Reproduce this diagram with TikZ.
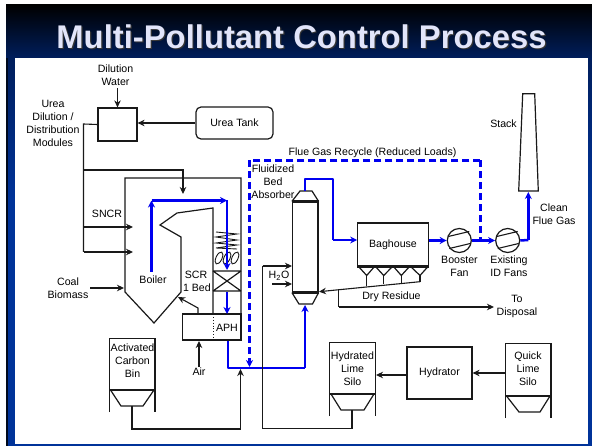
\documentclass[tikz,border=0pt]{standalone}
\usepackage{fontspec}
\setmainfont{Liberation Sans}
\usetikzlibrary{arrows.meta,calc}
\definecolor{flue}{RGB}{0,0,240}
\definecolor{titlecol}{RGB}{226,229,250}
\definecolor{navy}{RGB}{0,30,92}
\definecolor{sidebl}{RGB}{0,51,153}
\tikzset{
  lbl/.style={inner sep=0pt,align=center,font=\fontsize{10.6}{13}\selectfont,text=black},
  pipe/.style={draw=black!90,line width=1.1pt},
  arr/.style={pipe,-{Stealth[length=7pt,width=6.5pt]}},
  gas/.style={draw=flue,line width=2.5pt,line join=round},
  gasarr/.style={gas,-{Stealth[length=7pt,width=7pt]}},
  recyc/.style={draw=flue,line width=2.5pt,dash pattern=on 7pt off 4pt},
  unit/.style={draw=black!90,line width=1.2pt,inner sep=0pt,align=center,font=\fontsize{10.6}{13}\selectfont,text=black},
  wall/.style={draw=black!90,line width=1.2pt,line join=miter},
  thick wall/.style={draw=black!90,line width=2pt}
}
\begin{document}
\begin{tikzpicture}[x=1pt,y=-1pt]
\useasboundingbox (0,0) rectangle (592,446);
% slide background
\fill[white] (0,0) rectangle (592,446);
\fill[sidebl] (8,200) rectangle (592,446);
\shade[top color=navy,bottom color=sidebl] (8,58) rectangle (592,200);
\shade[top color=black,bottom color=navy] (6,5) rectangle (592,58);
\fill[black!70!navy] (6,58) rectangle (8,446);
\fill[white] (15,58) rectangle (588,444);
\node[font=\bfseries\fontsize{32.8}{34}\selectfont,text=black!80,inner sep=0pt] at (302.7,37.7) {Multi-Pollutant Control Process};
\node[font=\bfseries\fontsize{32.8}{34}\selectfont,text=titlecol,inner sep=0pt] (title) at (301.5,36.5) {Multi-Pollutant Control Process};

% coordinates
\coordinate (busTop) at (83.5,124);
\coordinate (busLow) at (83.5,252);
\coordinate (busSncr) at (83.5,227);
\coordinate (busUp) at (83.5,170);
\coordinate (sprayEl) at (183,170);
\coordinate (sprayTip) at (183,194);
\coordinate (sncrA) at (133,227);
\coordinate (sncrB) at (133,252);

% urea
\node[lbl] (water) at (115.5,75.5) {Dilution\\Water};
\node[lbl] (urea) at (53,123.5) {Urea\\Dilution /\\Distribution\\Modules};
\node[unit,minimum width=39pt,minimum height=33pt] (mod) at (117.5,124.5) {};
\node[unit,rounded corners=5pt,minimum width=77pt,minimum height=32pt] (tank) at (234.5,123) {Urea Tank};
\draw[arr] (water.south -| mod.north) ++(0,2) -- (mod.north);
\draw[arr] (tank.west) -- (tank.west -| mod.east);
\draw[pipe] (mod.west) -- (busTop) -- (busLow);
\draw[arr] (busLow) -- (sncrB);
\draw[arr] (busSncr) -- (sncrA);
\draw[arr] (busUp) -- (sprayEl) -- (sprayTip);

% boiler casing
\draw[wall] (241,340) -- (241,178) -- (125,178) -- (125,292) -- (154,323) -- (181,292) -- (181,237) -- (160,225) -- (177,213) -- (213,208) -- (213,314);
\draw[wall] (213,271) -- (241,271) (213,291) -- (241,291) (213,271) -- (241,291) (213,291) -- (241,271);
% coil
\draw[pipe,line width=0.9pt] (216,232) -- (237,234) -- (216,237) -- (237,240) -- (216,243) -- (237,245) -- (216,248) -- (237,249);
\foreach \xx in {219,227,235}
  \draw[pipe,line width=0.9pt,rotate around={-25:(\xx,258)}] (\xx,258) ellipse (3pt and 6.5pt);
% APH
\node[unit,minimum width=58.5pt,minimum height=26pt] (aph) at (211.75,327) {};
\draw[black!90,line width=0.9pt,dotted] (213,314) -- (213,340);
\node[lbl] (aphl) at (227,328) {APH};
\coordinate (hotA) at (198,308);
\coordinate (hotB) at (178,297);
\draw[arr] (198,314) -- (hotA) -- (hotB);
\node[lbl] (air) at (199,372) {Air};
\draw[arr] (air.north) ++(0,-1) -- (199,341);

\node[lbl] (sncr) at (107,214) {SNCR};
\node[lbl] (boiler) at (153,280) {Boiler};
\node[lbl] (scr) at (196,281.5) {SCR\\\,1 Bed};
\node[lbl] (coal) at (68,288.5) {Coal\\Biomass};
\draw[arr] (90,288) -- (124,288);

% flue gas path in the boiler
\coordinate (gasA) at (151.5,272);
\coordinate (gasB) at (151.5,200.5);
\coordinate (gasC) at (227,200.5);
\coordinate (gasD) at (227,270);
\draw[gasarr] (gasA) -- (gasB);
\draw[gasarr] (gasB) -- (gasC);
\draw[gasarr] (gasC) -- (gasD);
\draw[gasarr] (227,292) -- (227,314);

% duct to absorber
\coordinate (ductA) at (228,368);
\coordinate (ductB) at (305,368);
\draw[gas] (ductA |- aph.south) -- (ductA) -- (ductB);
\draw[gasarr] (ductB) -- (305,305);

% absorber
\node[wall,draw,minimum width=25.5pt,minimum height=90pt,inner sep=0pt] (abs) at (305.25,247) {};
\draw[wall] (abs.north west) -- (300,191) -- (312,191) -- (abs.north east);
\draw[wall] (abs.south west) -- (299,304) -- (312.5,304) -- (abs.south east);
\draw[thick wall] (abs.north west) -- (abs.north east);
\draw[thick wall] (abs.south west) -- (abs.south east);
\node[lbl] (fba) at (273,182) {Fluidized\\Bed\\Absorber};
\node[lbl] (h2o) at (279,276) {H\textsubscript{2}O};
\draw[arr] (272,284) -- (292,284);
\coordinate (wetA) at (262.5,266);
\coordinate (wetB) at (262.5,428.5);
\coordinate (wetC) at (352,428.5);
\draw[arr] (wetA) -- (292,266);
\draw[pipe] (wetA) -- (wetB) -- (wetC) -- (352,410);

% baghouse
\node[unit,minimum width=70.5pt,minimum height=43pt] (bag) at (393,244.5) {Baghouse};
\coordinate (gasE) at (305,179);
\coordinate (gasF) at (333,179);
\coordinate (gasG) at (333,240);
\draw[gas] (gasE |- 0,191) -- (gasE) -- (gasF) -- (gasG);
\draw[gasarr] (gasG) -- (bag.west |- gasG);
\draw[wall] (358,266) -- (366.7,275.5) -- (375,266) -- (383.7,275.5) -- (393,266) -- (401.3,275.5) -- (410,266) -- (420,275.5) -- (428.5,266);
\draw[thick wall] (bag.south west) -- (bag.south east);
\draw[pipe] (366.7,275.5) -- (366.7,286.5) (383.7,275.5) -- (383.7,284.5) (401.3,275.5) -- (401.3,283) (420,275.5) -- (420,281.7);
\coordinate (resA) at (420,281.7);
\coordinate (resB) at (319,291.7);
\draw[arr] (resA) -- (resB);
\coordinate (dispA) at (338.7,289.7);
\coordinate (dispB) at (338.7,307);
\node[lbl] (disp) at (517,306) {To\\Disposal};
\draw[pipe] (dispA) -- (dispB);
\draw[arr] (dispB) -- (494,307);
\node[lbl] (dry) at (391.5,297) {Dry Residue};

% fans
\node[draw=black!90,line width=1.2pt,circle,minimum size=24pt,inner sep=0pt] (bfan) at (459.3,240.5) {};
\node[draw=black!90,line width=1.2pt,circle,minimum size=24pt,inner sep=0pt] (idfan) at (507.7,240.5) {};
\foreach \ff in {bfan,idfan}{
  \draw[pipe] ($(\ff.center)+(-11,-4)$) -- ($(\ff.center)+(10,-9)$);
  \draw[pipe] ($(\ff.center)+(-10,8)$) -- ($(\ff.center)+(11,3)$);
}
\node[lbl] (bfl) at (459.5,266) {Booster\\Fan};
\node[lbl] (idl) at (509,266) {Existing\\ID Fans};
\draw[gasarr] (bag.east |- bfan.west) -- (bfan.west);
\draw[gasarr] (bfan.east) -- (idfan.west);
% recycle
\coordinate (recA) at (480.3,232);
\coordinate (recB) at (480.3,160.5);
\coordinate (recC) at (249.5,160.5);
\coordinate (recD) at (249.5,367);
\draw[recyc] (recB) -- (recC);
\draw[recyc] (recC) -- (249.5,357);
\draw[recyc] (recB) -- (480.3,240);
\draw[flue,line width=2.5pt,-{Stealth[length=7pt,width=7pt]}] (249.5,358) -- (recD);
\node[lbl] (recl) at (372.5,153) {Flue Gas Recycle (Reduced Loads)};

% stack
\coordinate (stA) at (518.7,191);
\coordinate (stB) at (538.3,191);
\draw[wall,fill=white] (stA) -- (522.7,93.7) -- (534.7,93.7) -- (stB) -- cycle;
\node[lbl] (stk) at (503.5,124) {Stack};
\node[lbl] (clean) at (554,214.5) {Clean\\Flue Gas};
\coordinate (gasH) at (528.3,240);
\draw[gas] (idfan.east) -- (gasH);
\draw[gasarr] (gasH) -- (528.3,192);

% carbon bin
\draw[wall] (109.5,412) -- (109.5,338.5) -- (155,338.5) -- (155,412);
\draw[thick wall] (109.5,390) -- (155,390);
\draw[wall] (110.5,390) -- (121,406) -- (143,406) -- (154,390);
\node[lbl] (acb) at (132.5,361) {Activated\\Carbon\\Bin};
\coordinate (carbA) at (132,406);
\coordinate (carbB) at (132,429);
\coordinate (carbC) at (240.5,429);
\draw[pipe] (carbA) -- (carbB) -- (carbC);
\draw[arr] (carbC) -- (240.5,369);

% hydrated lime silo
\draw[wall] (329.7,416) -- (329.7,342.7) -- (375.3,342.7) -- (375.3,416);
\draw[thick wall] (329.7,394) -- (375.3,394);
\draw[wall] (331,394) -- (341,410) -- (364,410) -- (374,394);
\node[lbl] (hls) at (352.5,369) {Hydrated\\Lime\\Silo};
% hydrator
\node[unit,minimum width=65pt,minimum height=52pt] (hyd) at (439.5,373) {Hydrator};
\draw[arr] (hyd.west |- 0,375) -- (376,375);
% quick lime silo
\draw[wall] (505.3,418) -- (505.3,343.7) -- (551,343.7) -- (551,418);
\draw[thick wall] (505.3,395.7) -- (551,395.7);
\draw[wall] (506.5,396) -- (519,412) -- (540,412) -- (550,396);
\node[lbl] (qls) at (528,369) {Quick\\Lime\\Silo};
\draw[arr] (505,373) -- (hyd.east |- 0,373);
\end{tikzpicture}
\end{document}
